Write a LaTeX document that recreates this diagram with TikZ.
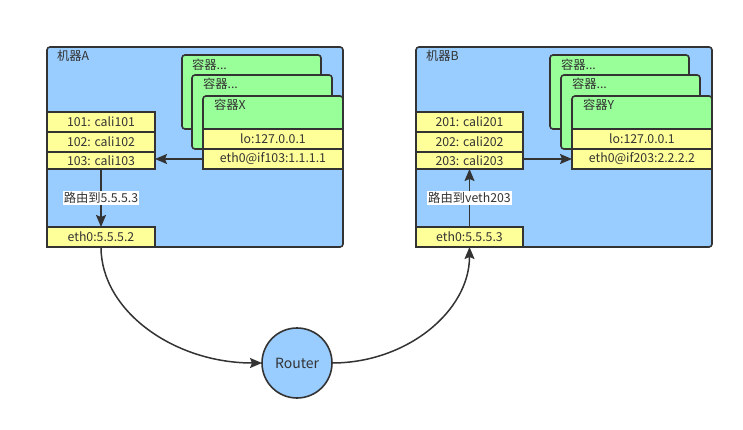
\documentclass[tikz,border=0pt]{standalone}
\usepackage{fontspec}
\setmainfont{Noto Sans CJK SC}
\usetikzlibrary{arrows.meta}
\definecolor{ln}{HTML}{333333}
\definecolor{bl}{HTML}{99CCFF}
\definecolor{gr}{HTML}{99FF99}
\definecolor{yl}{HTML}{FFFF99}
\begin{document}
\begin{tikzpicture}[x=1pt,y=-1pt, font=\fontsize{12.3}{14}\selectfont, text=ln,
 every node/.style={inner sep=0pt, outer sep=0pt},
 machine/.style={draw=ln, line width=1.6pt, fill=bl, rounded corners=3pt, anchor=north west},
 cont/.style={draw=ln, line width=1.6pt, fill=gr, rounded corners=3pt, anchor=north west},
 rowbox/.style={draw=ln, line width=1.6pt, fill=yl, anchor=north west},
 lbl/.style={anchor=west},
 arr/.style={draw=ln, line width=1.5pt, -{Stealth[length=12pt,width=10pt,inset=2pt]}},
 elbl/.style={fill=white, inner sep=1pt}
]
\useasboundingbox[fill=white] (0,0) rectangle (743,430);

% ---------- Machine A ----------
\node[machine, minimum width=296pt, minimum height=200pt] (mA) at (47,47) {};
\node[lbl] (lA) at (57,56) {机器A};
\node[cont, minimum width=139pt, minimum height=74pt] (cA1) at (182,55) {};
\node[lbl] (tA1) at (192,65) {容器...};
\node[cont, minimum width=140pt, minimum height=74pt] (cA2) at (192,75) {};
\node[lbl] (tA2) at (203,84) {容器...};
\node[cont, minimum width=140pt, minimum height=73pt] (cA3) at (203,96) {};
\node[lbl] (tA3) at (214,105) {容器X};
\node[rowbox, minimum width=140pt, minimum height=20pt] (loA) at (203,129) {};
\node (loAt) at (loA.center) {lo:127.0.0.1};
\node[rowbox, minimum width=140pt, minimum height=20pt] (ethX) at (203,149) {};
\node (ethXt) at (ethX.center) {eth0@if103:1.1.1.1};
\node[rowbox, minimum width=108pt, minimum height=20pt] (r101) at (47,112) {};
\node at (r101.center) {101: cali101};
\node[rowbox, minimum width=108pt, minimum height=20pt] (r102) at (47,132) {};
\node at (r102.center) {102: cali102};
\node[rowbox, minimum width=108pt, minimum height=17pt] (r103) at (47,152) {};
\node at (r103.center) {103: cali103};
\node[rowbox, minimum width=108pt, minimum height=20pt] (ethA) at (47,227) {};
\node at (ethA.center) {eth0:5.5.5.2};

% ---------- Machine B ----------
\node[machine, minimum width=296pt, minimum height=200pt] (mB) at (416,47) {};
\node[lbl] (lB) at (426,56) {机器B};
\node[cont, minimum width=139pt, minimum height=74pt] (cB1) at (550,55) {};
\node[lbl] (tB1) at (561,65) {容器...};
\node[cont, minimum width=139pt, minimum height=74pt] (cB2) at (561,75) {};
\node[lbl] (tB2) at (572,84) {容器...};
\node[cont, minimum width=140pt, minimum height=73pt] (cB3) at (572,96) {};
\node[lbl] (tB3) at (583,105) {容器Y};
\node[rowbox, minimum width=140pt, minimum height=20pt] (loB) at (572,129) {};
\node (loBt) at (loB.center) {lo:127.0.0.1};
\node[rowbox, minimum width=140pt, minimum height=20pt] (ethY) at (572,149) {};
\node (ethYt) at (ethY.center) {eth0@if203:2.2.2.2};
\node[rowbox, minimum width=107pt, minimum height=20pt] (r201) at (416,112) {};
\node at (r201.center) {201: cali201};
\node[rowbox, minimum width=107pt, minimum height=20pt] (r202) at (416,132) {};
\node at (r202.center) {202: cali202};
\node[rowbox, minimum width=107pt, minimum height=17pt] (r203) at (416,152) {};
\node at (r203.center) {203: cali203};
\node[rowbox, minimum width=107pt, minimum height=20pt] (ethB) at (416,227) {};
\node at (ethB.center) {eth0:5.5.5.3};

% ---------- Router ----------
\node[circle, draw=ln, fill=bl, line width=1.6pt, minimum size=70pt, font=\fontsize{14}{16}\selectfont] (rt) at (297,363) {Router};

% ---------- Connectors ----------
\draw[arr] (ethX.west) -- (ethX.west -| r103.east);
\draw[arr] (r103.south) -- node[elbl] {路由到5.5.5.3} (ethA.north);
\draw[arr] (r203.east |- ethY.west) -- (ethY.west);
\draw[arr] (ethB.north) -- node[elbl] {路由到veth203} (r203.south);
\draw[arr] (ethA.south) .. controls +(0,64) and +(-88,0) .. (rt.west);
\draw[arr] (rt.east) .. controls +(75,0) and +(0,64) .. (ethB.south);
\end{tikzpicture}
\end{document}
